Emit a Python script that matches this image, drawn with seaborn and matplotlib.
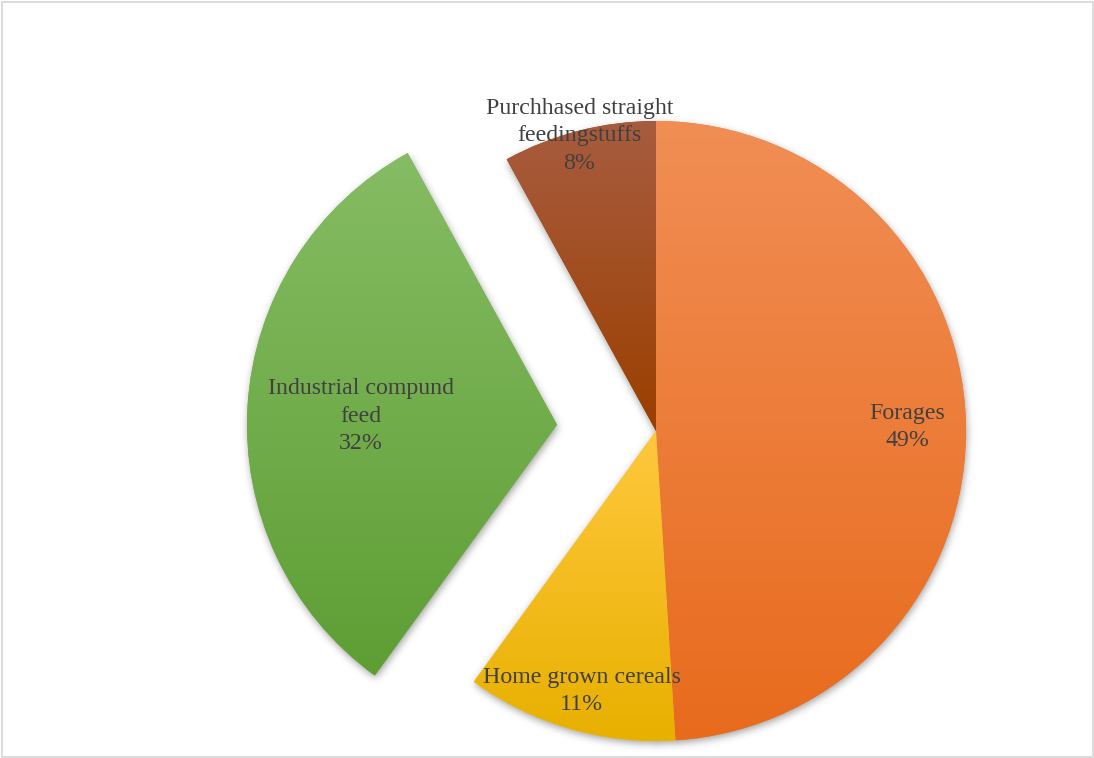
import numpy as np
import matplotlib
matplotlib.use("Agg")
import matplotlib.pyplot as plt
from matplotlib.colors import to_rgb
from matplotlib.patches import Rectangle
import seaborn as sns

# Feed composition shares
categories = ["Forages", "Home grown cereals", "Industrial compund\nfeed",
              "Purchhased straight\nfeedingstuffs"]
shares = [49, 11, 32, 8]
explode = [0.0, 0.0, 0.32, 0.0]
base_colors = ["#ED7D31", "#FFC000", "#70AD47", "#9E480E"]
top_colors = ["#F18E55", "#FFC83E", "#86BC64", "#A85C3F"]
bottom_colors = ["#E86B1D", "#E8B000", "#5E9E34", "#9B3F00"]
label_radius = [0.81, 0.86, 0.955, 0.995]

sns.set_theme(style="white")
plt.rcParams["font.family"] = ["Liberation Serif", "DejaVu Serif"]

W, H, DPI = 1094, 758, 100
fig = plt.figure(figsize=(W / DPI, H / DPI), dpi=DPI)
ax = fig.add_axes([0, 0, 1, 1])

cx, cy, R = 656, 431, 310  # pie centre and radius in pixels
palette = sns.color_palette(base_colors)
wedges, _ = ax.pie(shares, explode=explode, colors=palette, startangle=90,
                   counterclock=False, radius=1.0,
                   wedgeprops=dict(linewidth=0, zorder=2))
x0, x1 = -cx / R, (W - cx) / R
y0, y1 = -(H - cy) / R, cy / R
ax.set_xlim(x0, x1)
ax.set_ylim(y0, y1)
ax.set_aspect("equal")
ax.axis("off")

# Raster grid (one cell per pixel) for the soft drop shadow
gx = np.linspace(x0, x1, W)
gy = np.linspace(y1, y0, H)
GX, GY = np.meshgrid(gx, gy)

mask = np.zeros((H, W))
for w in wedges:
    wx, wy = w.center
    dx, dy = GX - wx, GY - wy
    rr = np.hypot(dx, dy)
    ang = np.degrees(np.arctan2(dy, dx))
    a0, a1 = w.theta1, w.theta2
    rel = (ang - a0) % 360
    inside = (rr <= w.r) & (rel <= (a1 - a0) % 360 if (a1 - a0) % 360 else True)
    mask = np.maximum(mask, inside.astype(float))


def blur(img, sigma):
    r = int(3 * sigma)
    k = np.exp(-0.5 * (np.arange(-r, r + 1) / sigma) ** 2)
    k /= k.sum()
    out = np.apply_along_axis(lambda v: np.convolve(v, k, mode="same"), 1, img)
    out = np.apply_along_axis(lambda v: np.convolve(v, k, mode="same"), 0, out)
    return out


shadow = blur(mask, 4.0)
shadow = np.roll(shadow, 3, axis=0)
shadow = np.roll(shadow, 1, axis=1)
rgba = np.zeros((H, W, 4))
rgba[..., 3] = shadow * 0.38
ax.imshow(rgba, extent=(x0, x1, y0, y1), zorder=1, interpolation="bilinear")

# Vertical gradient fill inside each slice
for w, ctop, cbot in zip(wedges, top_colors, bottom_colors):
    p = w.get_patch_transform().transform_path(w.get_path())
    ext = p.get_extents()
    t = np.linspace(0, 1, 256)[:, None]
    c0, c1 = np.array(to_rgb(ctop)), np.array(to_rgb(cbot))
    grad = (c0[None, :] * (1 - t) + c1[None, :] * t)[:, None, :]
    grad = np.repeat(grad, 2, axis=1)
    im = ax.imshow(grad, extent=(ext.x0, ext.x1, ext.y0, ext.y1),
                   aspect="auto", zorder=3, interpolation="bilinear")
    im.set_clip_path(w)

# Category labels with percentages
for w, name, val, rl in zip(wedges, categories, shares, label_radius):
    mid = np.deg2rad((w.theta1 + w.theta2) / 2)
    lx, ly = rl * np.cos(mid), rl * np.sin(mid) - 0.012
    ax.text(lx, ly, f"{name}\n{val}%", ha="center", va="center",
            fontsize=17.2, color="#404040", linespacing=1.4, zorder=5)

ax.set_xlim(x0, x1)
ax.set_ylim(y0, y1)

# Chart area border
fig.patches.append(Rectangle((1.5 / W, 1.5 / H), (W - 3) / W, (H - 3) / H,
                             transform=fig.transFigure, fill=False,
                             edgecolor="#d9d9d9", linewidth=1.3))

fig.savefig("out.png", dpi=DPI, facecolor="white")
